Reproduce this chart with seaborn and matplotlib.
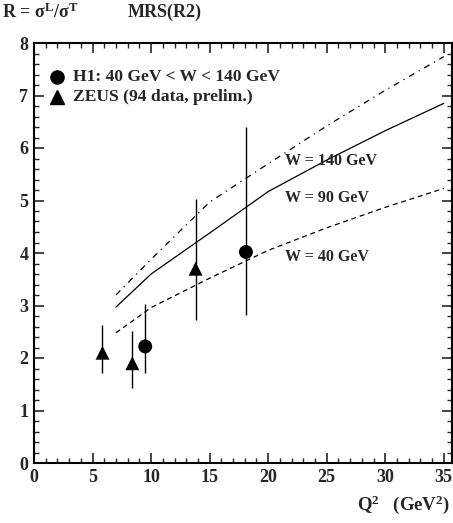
import numpy as np
import pandas as pd
import matplotlib
matplotlib.use("Agg")
import matplotlib.pyplot as plt
import seaborn as sns
from matplotlib.ticker import MultipleLocator

# ---- data ----
q2_curve = [7, 10, 15, 20, 25, 30, 35]
r_w40 = [2.48, 2.96, 3.52, 4.05, 4.48, 4.87, 5.23]
r_w90 = [2.97, 3.60, 4.38, 5.17, 5.77, 6.33, 6.85]
r_w140 = [3.20, 3.88, 4.97, 5.70, 6.42, 7.10, 7.74]

h1_q2 = [9.5, 18.1]
h1_r = [2.22, 4.02]
h1_lo = [1.72, 2.82]
h1_hi = [3.02, 6.40]

zeus_q2 = [5.85, 8.4, 13.8]
zeus_r = [2.10, 1.90, 3.70]
zeus_lo = [1.72, 1.42, 2.72]
zeus_hi = [2.62, 2.52, 5.02]

curve_labels = ["W = 140 GeV", "W = 90 GeV", "W = 40 GeV"]
xticks = [0, 5, 10, 15, 20, 25, 30, 35]
yticks = [0, 1, 2, 3, 4, 5, 6, 7, 8]

sns.set_theme(style="ticks")
plt.rcParams['font.family'] = ['Liberation Serif', 'DejaVu Serif']
plt.rcParams['font.weight'] = 'bold'
plt.rcParams['mathtext.fontset'] = 'custom'
plt.rcParams['mathtext.rm'] = 'Liberation Serif:bold'
plt.rcParams['mathtext.bf'] = 'Liberation Serif:bold'
plt.rcParams['mathtext.it'] = 'Liberation Serif:bold'

fig = plt.figure(figsize=(4.53, 5.23), dpi=100)
ax = fig.add_axes([34/453, 1-463/523, (452-34)/453, (463-43)/523])

curves = pd.DataFrame({
    "Q2": q2_curve * 3,
    "R": r_w40 + r_w90 + r_w140,
    "W": ["40"] * 7 + ["90"] * 7 + ["140"] * 7,
})
sns.lineplot(data=curves, x="Q2", y="R", hue="W", style="W",
             palette={"40": "black", "90": "black", "140": "black"},
             dashes={"40": (4, 3), "90": "", "140": (5, 4, 1, 4)},
             linewidth=0.9, legend=False, ax=ax, estimator=None, sort=False)

# error bars
ax.vlines(h1_q2, h1_lo, h1_hi, color="black", linewidth=1.0)
ax.vlines(zeus_q2, zeus_lo, zeus_hi, color="black", linewidth=1.0)

pts = pd.DataFrame({
    "Q2": h1_q2 + zeus_q2,
    "R": h1_r + zeus_r,
    "exp": ["H1"] * 2 + ["ZEUS"] * 3,
})
sns.scatterplot(data=pts, x="Q2", y="R", style="exp",
                markers={"H1": "o", "ZEUS": "^"}, color="black",
                s=100, edgecolor="black", linewidth=0, legend=False, ax=ax, zorder=5)

# legend (drawn manually like the original)
ax.plot([1.94], [7.36], marker="o", color="black", markersize=9.5, linestyle="none")
ax.plot([1.94], [6.98], marker="^", color="black", markersize=9.5, linestyle="none")
ax.text(3.3, 7.36, "H1: 40 GeV < W < 140 GeV", fontsize=12.6, fontweight="bold",
        va="center", ha="left")
ax.text(3.3, 6.98, "ZEUS (94 data, prelim.)", fontsize=12.6, fontweight="bold",
        va="center", ha="left")

for lab, yv in zip(curve_labels, [5.75, 5.04, 3.93]):
    ax.text(21.4, yv, lab, fontsize=11.5, fontweight="bold", va="center", ha="left")

ax.set_xlim(0, 35.7)
ax.set_ylim(0, 8)
ax.set_xticks(xticks)
ax.set_yticks(yticks)
ax.xaxis.set_minor_locator(MultipleLocator(1))
ax.yaxis.set_minor_locator(MultipleLocator(0.2))
ax.tick_params(which="major", direction="in", length=7, width=1.2,
               top=True, right=True, labelsize=13, pad=4)
ax.tick_params(which="minor", direction="in", length=3.5, width=1.0,
               top=True, right=True)
for lab in ax.get_xticklabels() + ax.get_yticklabels():
    lab.set_fontweight("bold")
for s in ax.spines.values():
    s.set_linewidth(1.5)
    s.set_color("black")
ax.set_xlabel("")
ax.set_ylabel("")

fig.text(2/453, 1-12/523, r"R = σ$^{\mathbf{L}}$/σ$^{\mathbf{T}}$", fontsize=13,
         fontweight="bold", va="center", ha="left")
fig.text(128/453, 1-12/523, "MRS(R2)", fontsize=13, fontweight="bold",
         va="center", ha="left")
fig.text(450/453, 1-505/523, r"Q$^{\mathbf{2}}$   (GeV$^{\mathbf{2}}$)", fontsize=13.5,
         fontweight="bold", va="center", ha="right")

fig.savefig("out.png", dpi=100)
